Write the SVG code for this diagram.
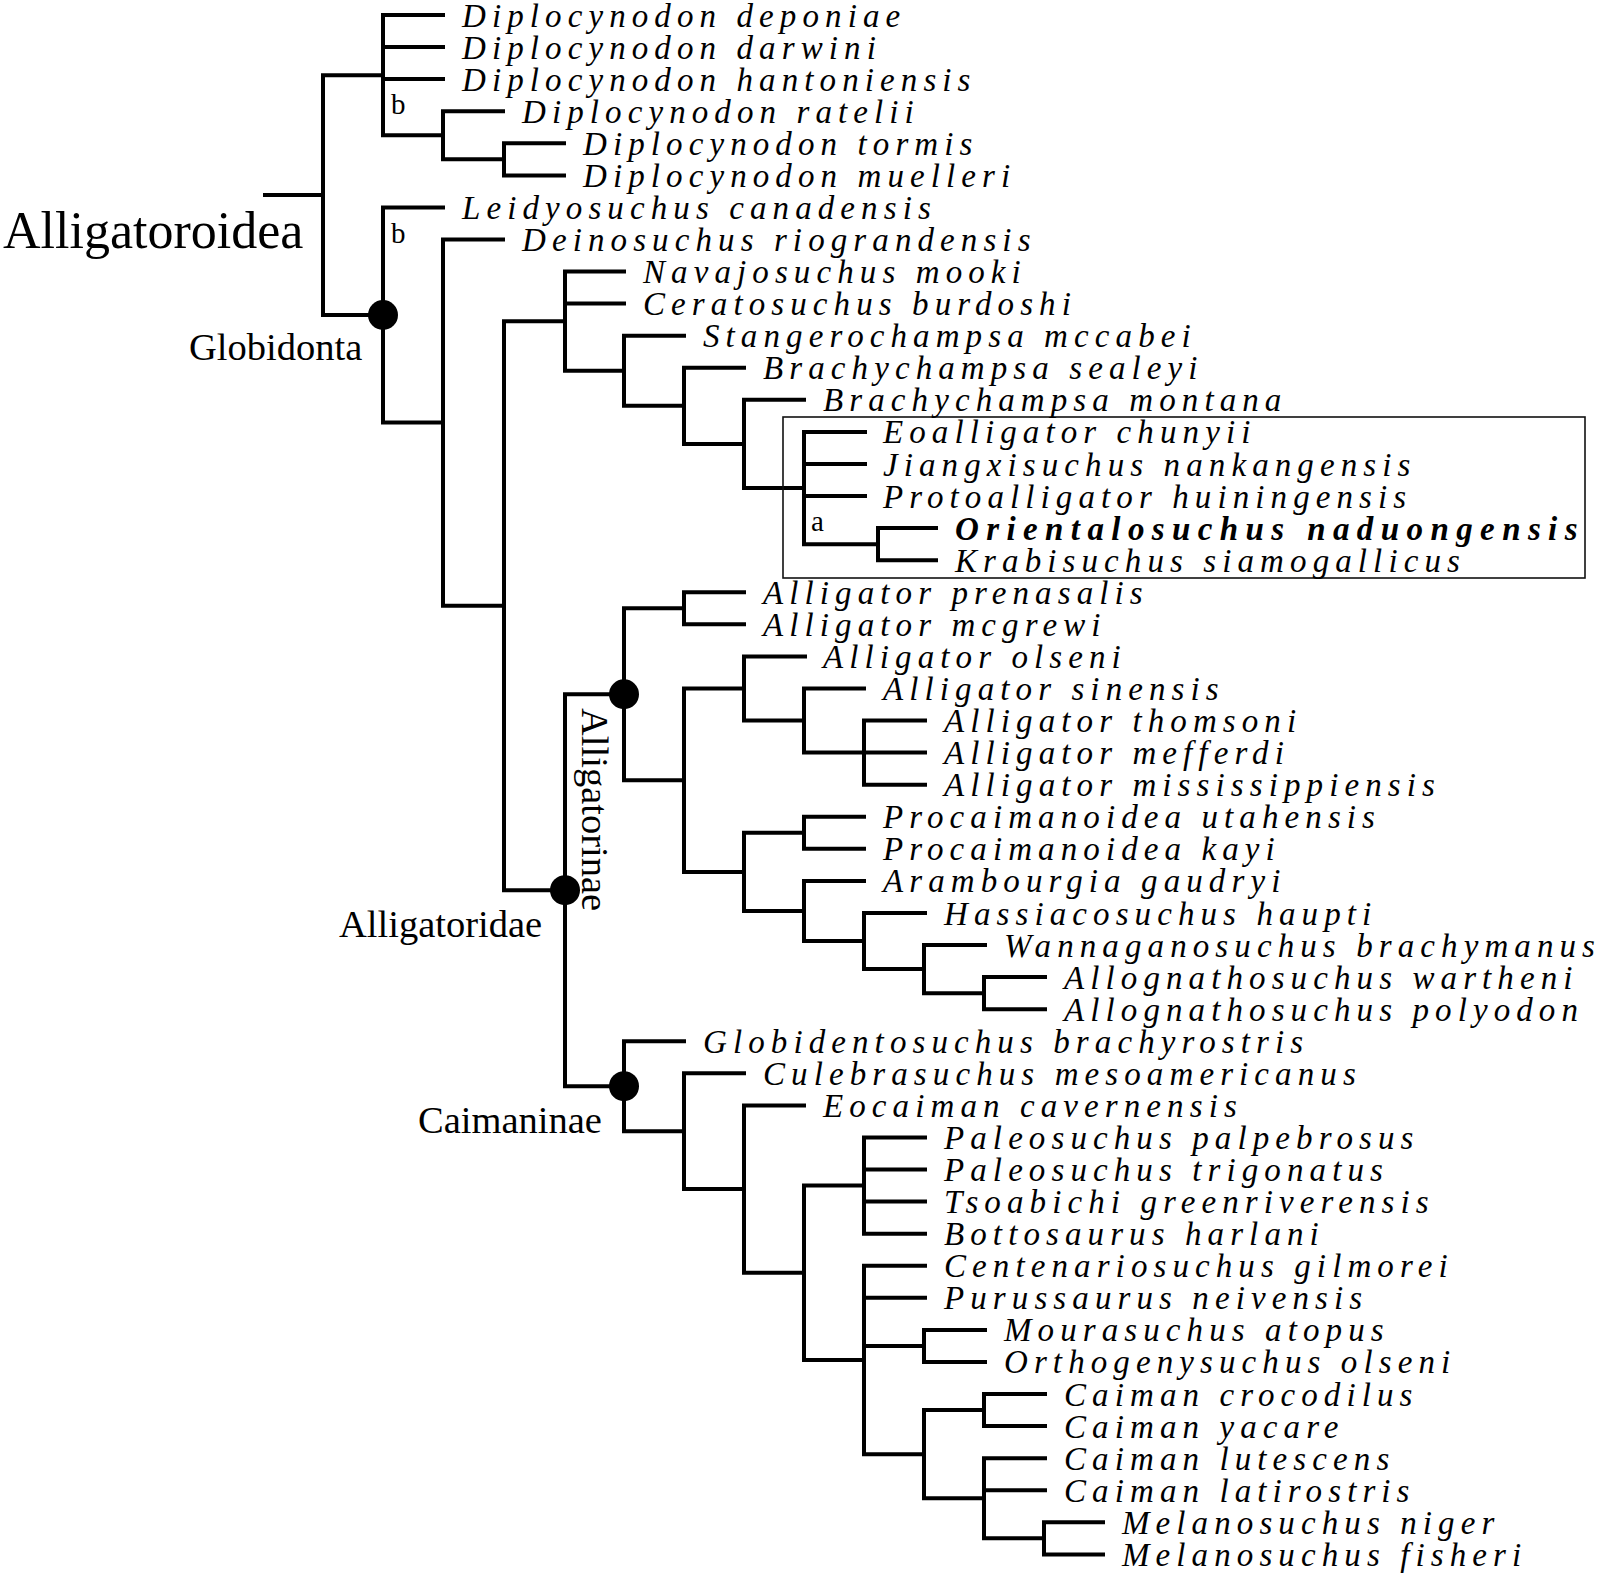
<svg xmlns="http://www.w3.org/2000/svg" width="1600" height="1577" viewBox="0 0 1600 1577">
<style>
.c{fill:none;stroke:#000;stroke-width:4;stroke-linecap:square;stroke-linejoin:miter}
.t{font-family:"Liberation Serif","Times New Roman",serif;font-style:italic;font-size:33px;letter-spacing:6.1px;fill:#000}
.tb{font-weight:bold;letter-spacing:7.4px}
.lab{font-family:"Liberation Serif","Times New Roman",serif;font-size:38.5px;fill:#000}
.sm{font-family:"Liberation Serif","Times New Roman",serif;font-size:29px;fill:#000}
.dot{fill:#000}
</style>
<rect width="1600" height="1577" fill="#fff"/>
<g id="connectors">
<path class="c" d="M265 195.1H323 M323 75.15V315 M323 75.15H383 M323 315H383"/>
<path class="c" d="M383 15V135.3 M383 15H443 M383 47.1H443 M383 79.1H443 M383 135.3H443"/>
<path class="c" d="M443 111.2V159.35 M443 111.2H503 M443 159.35H504"/>
<path class="c" d="M504 143.3V175.4 M504 143.3H564 M504 175.4H564"/>
<path class="c" d="M383 207.4V422.6 M383 207.4H443 M383 422.6H443"/>
<path class="c" d="M443 239.5V605.7 M443 239.5H503 M443 605.7H504"/>
<path class="c" d="M504 321.2V890.2 M504 321.2H565 M504 890.2H565"/>
<path class="c" d="M565 271.6V370.8 M565 271.6H624 M565 303.6H624 M565 370.8H624"/>
<path class="c" d="M624 335.7V405.85 M624 335.7H684 M624 405.85H684"/>
<path class="c" d="M684 367.8V443.9 M684 367.8H744 M684 443.9H744"/>
<path class="c" d="M744 399.8V488 M744 399.8H804 M744 488H804"/>
<path class="c" d="M804 431.9V544.15 M804 431.9H865 M804 464H865 M804 496.1H865 M804 544.15H878"/>
<path class="c" d="M878 528.1V560.2 M878 528.1H936 M878 560.2H936"/>
<path class="c" d="M565 694.25V1086.2 M565 694.25H624 M565 1086.2H624"/>
<path class="c" d="M624 608.3V780.2 M624 608.3H684 M624 780.2H684"/>
<path class="c" d="M684 592.3V624.3 M684 592.3H744 M684 624.3H744"/>
<path class="c" d="M684 688.5V871.9 M684 688.5H744 M684 871.9H744"/>
<path class="c" d="M744 656.4V720.55 M744 656.4H805 M744 720.55H804"/>
<path class="c" d="M804 688.5V752.6 M804 688.5H864 M804 752.6H864"/>
<path class="c" d="M864 720.5V784.7 M864 720.5H925 M864 752.6H925 M864 784.7H925"/>
<path class="c" d="M744 832.8V911 M744 832.8H804 M744 911H804"/>
<path class="c" d="M804 816.8V848.8 M804 816.8H864 M804 848.8H864"/>
<path class="c" d="M804 880.9V941.05 M804 880.9H864 M804 941.05H864"/>
<path class="c" d="M864 913V969.1 M864 913H925 M864 969.1H924"/>
<path class="c" d="M924 945V993.15 M924 945H985 M924 993.15H984"/>
<path class="c" d="M984 977.1V1009.2 M984 977.1H1045 M984 1009.2H1045"/>
<path class="c" d="M624 1041.2V1131.2 M624 1041.2H684 M624 1131.2H684"/>
<path class="c" d="M684 1073.3V1189.1 M684 1073.3H744 M684 1189.1H744"/>
<path class="c" d="M744 1105.4V1272.8 M744 1105.4H804 M744 1272.8H804"/>
<path class="c" d="M804 1185.6V1359.95 M804 1185.6H864 M804 1359.95H864"/>
<path class="c" d="M864 1137.5V1233.7 M864 1137.5H925 M864 1169.5H925 M864 1201.6H925 M864 1233.7H925"/>
<path class="c" d="M864 1265.7V1454.2 M864 1265.7H925 M864 1297.8H925 M864 1345.9H924 M864 1454.2H924"/>
<path class="c" d="M924 1329.9V1361.9 M924 1329.9H985 M924 1361.9H985"/>
<path class="c" d="M924 1410.05V1498.3 M924 1410.05H984 M924 1498.3H984"/>
<path class="c" d="M984 1394V1426.1 M984 1394H1045 M984 1426.1H1045"/>
<path class="c" d="M984 1458.2V1538.35 M984 1458.2H1045 M984 1490.2H1045 M984 1538.35H1044"/>
<path class="c" d="M1044 1522.3V1554.4 M1044 1522.3H1103 M1044 1554.4H1103"/>
</g>
<g id="highlight-box"><rect x="783" y="417" width="802" height="161" fill="none" stroke="#111" stroke-width="1.6"/></g>
<g id="clade-markers">
<circle class="dot" cx="383" cy="315" r="15"/>
<circle class="dot" cx="565" cy="890.2" r="15"/>
<circle class="dot" cx="624" cy="694.25" r="15"/>
<circle class="dot" cx="624" cy="1086.2" r="15"/>
</g>
<g id="clade-labels">
<text class="lab" x="3" y="248" style="font-size:52px">Alligatoroidea</text>
<text class="lab" x="189" y="360">Globidonta</text>
<text class="lab" x="339" y="937">Alligatoridae</text>
<text class="lab" x="418" y="1133">Caimaninae</text>
<text class="lab" transform="translate(582,708) rotate(90)">Alligatorinae</text>
<text class="sm" x="391" y="114">b</text>
<text class="sm" x="391" y="243">b</text>
<text class="sm" x="811" y="531">a</text>
</g>
<g id="taxa">
<g id="t1"><text class="t" x="462" y="26.5">Diplocynodon deponiae</text></g>
<g id="t2"><text class="t" x="462" y="58.6">Diplocynodon darwini</text></g>
<g id="t3"><text class="t" x="462" y="90.6">Diplocynodon hantoniensis</text></g>
<g id="t4"><text class="t" x="522" y="122.7">Diplocynodon ratelii</text></g>
<g id="t5"><text class="t" x="583" y="154.8">Diplocynodon tormis</text></g>
<g id="t6"><text class="t" x="583" y="186.9">Diplocynodon muelleri</text></g>
<g id="t7"><text class="t" x="462" y="218.9">Leidyosuchus canadensis</text></g>
<g id="t8"><text class="t" x="522" y="251">Deinosuchus riograndensis</text></g>
<g id="t9"><text class="t" x="643" y="283.1">Navajosuchus mooki</text></g>
<g id="t10"><text class="t" x="643" y="315.1">Ceratosuchus burdoshi</text></g>
<g id="t11"><text class="t" x="703" y="347.2">Stangerochampsa mccabei</text></g>
<g id="t12"><text class="t" x="763" y="379.3">Brachychampsa sealeyi</text></g>
<g id="t13"><text class="t" x="823" y="411.3">Brachychampsa montana</text></g>
<g id="t14"><text class="t" x="883" y="443.4">Eoalligator chunyii</text></g>
<g id="t15"><text class="t" x="883" y="475.5">Jiangxisuchus nankangensis</text></g>
<g id="t16"><text class="t" x="883" y="507.6">Protoalligator huiningensis</text></g>
<g id="t17"><text class="t tb" x="955" y="539.6">Orientalosuchus naduongensis</text></g>
<g id="t18"><text class="t" x="955" y="571.7">Krabisuchus siamogallicus</text></g>
<g id="t19"><text class="t" x="763" y="603.8">Alligator prenasalis</text></g>
<g id="t20"><text class="t" x="763" y="635.8">Alligator mcgrewi</text></g>
<g id="t21"><text class="t" x="823" y="667.9">Alligator olseni</text></g>
<g id="t22"><text class="t" x="883" y="700">Alligator sinensis</text></g>
<g id="t23"><text class="t" x="944" y="732">Alligator thomsoni</text></g>
<g id="t24"><text class="t" x="944" y="764.1">Alligator mefferdi</text></g>
<g id="t25"><text class="t" x="944" y="796.2">Alligator mississippiensis</text></g>
<g id="t26"><text class="t" x="883" y="828.3">Procaimanoidea utahensis</text></g>
<g id="t27"><text class="t" x="883" y="860.3">Procaimanoidea kayi</text></g>
<g id="t28"><text class="t" x="883" y="892.4">Arambourgia gaudryi</text></g>
<g id="t29"><text class="t" x="944" y="924.5">Hassiacosuchus haupti</text></g>
<g id="t30"><text class="t" x="1004" y="956.5">Wannaganosuchus brachymanus</text></g>
<g id="t31"><text class="t" x="1064" y="988.6">Allognathosuchus wartheni</text></g>
<g id="t32"><text class="t" x="1064" y="1020.7">Allognathosuchus polyodon</text></g>
<g id="t33"><text class="t" x="703" y="1052.7">Globidentosuchus brachyrostris</text></g>
<g id="t34"><text class="t" x="763" y="1084.8">Culebrasuchus mesoamericanus</text></g>
<g id="t35"><text class="t" x="823" y="1116.9">Eocaiman cavernensis</text></g>
<g id="t36"><text class="t" x="944" y="1149">Paleosuchus palpebrosus</text></g>
<g id="t37"><text class="t" x="944" y="1181">Paleosuchus trigonatus</text></g>
<g id="t38"><text class="t" x="944" y="1213.1">Tsoabichi greenriverensis</text></g>
<g id="t39"><text class="t" x="944" y="1245.2">Bottosaurus harlani</text></g>
<g id="t40"><text class="t" x="944" y="1277.2">Centenariosuchus gilmorei</text></g>
<g id="t41"><text class="t" x="944" y="1309.3">Purussaurus neivensis</text></g>
<g id="t42"><text class="t" x="1004" y="1341.4">Mourasuchus atopus</text></g>
<g id="t43"><text class="t" x="1004" y="1373.4">Orthogenysuchus olseni</text></g>
<g id="t44"><text class="t" x="1064" y="1405.5">Caiman crocodilus</text></g>
<g id="t45"><text class="t" x="1064" y="1437.6">Caiman yacare</text></g>
<g id="t46"><text class="t" x="1064" y="1469.7">Caiman lutescens</text></g>
<g id="t47"><text class="t" x="1064" y="1501.7">Caiman latirostris</text></g>
<g id="t48"><text class="t" x="1122" y="1533.8">Melanosuchus niger</text></g>
<g id="t49"><text class="t" x="1122" y="1565.9">Melanosuchus fisheri</text></g>
</g>
</svg>
